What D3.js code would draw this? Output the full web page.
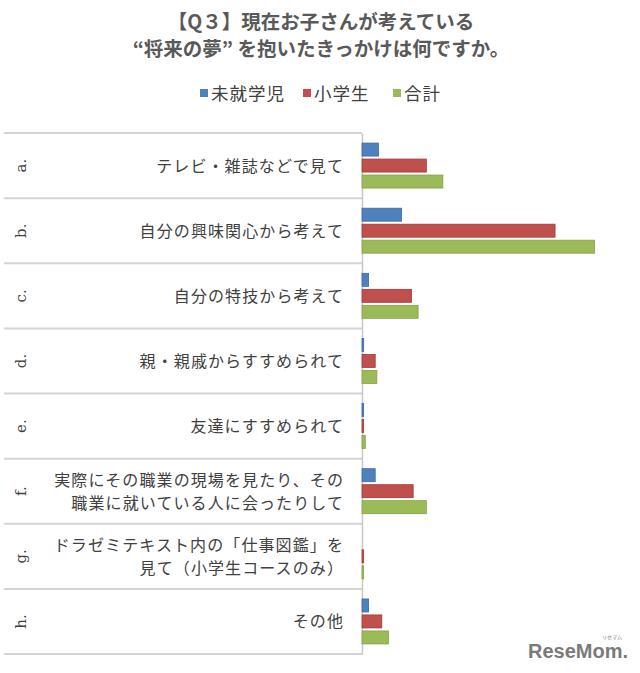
<!DOCTYPE html>
<html><head><meta charset="utf-8">
<script src="https://cdn.jsdelivr.net/npm/d3@7"></script>
<style>
html,body{margin:0;padding:0;background:#fff;}
svg{display:block;font-family:"Noto Sans CJK JP","Noto Sans",sans-serif;}
</style></head>
<body>
<svg id="c" width="640" height="673"></svg>
<script>
const titleLines = ["【Q３】現在お子さんが考えている", "“将来の夢” を抱いたきっかけは何ですか。"];
const letters = ["a.", "b.", "c.", "d.", "e.", "f.", "g.", "h."];
const labels = [
  ["テレビ・雑誌などで見て"],
  ["自分の興味関心から考えて"],
  ["自分の特技から考えて"],
  ["親・親戚からすすめられて"],
  ["友達にすすめられて"],
  ["実際にその職業の現場を見たり、その", "職業に就いている人に会ったりして"],
  ["ドラゼミテキスト内の「仕事図鑑」を", "見て（小学生コースのみ）"],
  ["その他"]
];
const seriesNames = ["未就学児", "小学生", "合計"];
const preschool  = [10, 24, 4, 1, 1, 8, 0, 4];
const elementary = [39, 117, 30, 8, 1, 31, 1, 12];
const total      = [49, 141, 34, 9, 2, 39, 1, 16];
const seriesValues = [preschool, elementary, total];
const colors = ["#4F81BD", "#C0504D", "#9BBB59"];
const strokes = ["#3a6aa3", "#9e3a37", "#84a146"];

const svg = d3.select("#c");
const x0 = 362;
const x = d3.scaleLinear().domain([0, 160]).range([x0, x0 + 264]);
const y = d3.scaleBand().domain(letters).range([133, 654]).paddingInner(0).paddingOuter(0);
const ys = d3.scaleBand().domain(seriesNames).range([0, y.bandwidth()]).paddingInner(0.1875).paddingOuter(0.63);

// title
svg.append("g").selectAll("text").data(titleLines).join("text")
  .attr("x", 321).attr("y", (d, i) => 29 + i * 27)
  .attr("text-anchor", "middle")
  .attr("font-size", 19.5).attr("font-weight", "bold")
  .attr("fill", "#595959")
  .text(d => d);

// legend
const legendX = [200, 303, 393];
const lg = svg.append("g").selectAll("g").data(seriesNames).join("g")
  .attr("transform", (d, i) => `translate(${legendX[i]},93)`);
lg.append("rect").attr("x", 0).attr("y", -4).attr("width", 8).attr("height", 8)
  .attr("fill", (d, i) => colors[i]);
lg.append("text").attr("x", 11).attr("y", 6.5)
  .attr("font-size", 17.5).attr("letter-spacing", 1).attr("fill", "#404040").text(d => d);

// separators
const bounds = letters.map(d => y(d)).concat([y.range()[1]]);
svg.append("g").selectAll("line").data(bounds).join("line")
  .attr("x1", 4).attr("x2", x0)
  .attr("y1", d => d).attr("y2", d => d)
  .attr("stroke", "#d4d4d4").attr("stroke-width", 2);

// axis line
svg.append("g").attr("transform", `translate(${x0},0)`)
  .call(d3.axisLeft(y).tickSize(0).tickFormat(""))
  .call(g => g.select(".domain").attr("stroke", "#c8c8c8").attr("stroke-width", 1.5));

// category letters (rotated)
svg.append("g").selectAll("text").data(letters).join("text")
  .attr("transform", d => `translate(26,${y(d) + y.bandwidth() / 2}) rotate(-90)`)
  .attr("text-anchor", "middle")
  .attr("font-size", 15).attr("fill", "#404040")
  .attr("font-family", "DejaVu Serif, serif")
  .text(d => d);

// category labels
const lab = svg.append("g").selectAll("text").data(labels).join("text")
  .attr("text-anchor", "end")
  .attr("font-size", 16).attr("letter-spacing", 1.1).attr("fill", "#404040");
lab.each(function (lines, i) {
  const cy = y(letters[i]) + y.bandwidth() / 2;
  const n = lines.length;
  d3.select(this).selectAll("tspan").data(lines).join("tspan")
    .attr("x", 344)
    .attr("y", (d, j) => cy + 6 + (j - (n - 1) / 2) * 23)
    .text(d => d);
});

// bars
seriesNames.forEach((s, si) => {
  svg.append("g").selectAll("rect").data(seriesValues[si]).join("rect")
    .attr("x", x(0))
    .attr("y", (d, i) => y(letters[i]) + ys(s))
    .attr("width", d => x(d) - x(0))
    .attr("height", ys.bandwidth())
    .attr("fill", colors[si])
    .attr("stroke", d => d > 0 ? strokes[si] : "none")
    .attr("stroke-width", 0.8);
});

// watermark
svg.append("text").attr("x", 628).attr("y", 658)
  .attr("text-anchor", "end")
  .attr("font-family", "Liberation Sans, Arial, sans-serif")
  .attr("font-weight", "bold").attr("font-size", 20)
  .attr("fill", "#7a7a7a").text("ReseMom.");
svg.append("text").attr("x", 612).attr("y", 639)
  .attr("text-anchor", "middle")
  .attr("font-size", 5).attr("fill", "#7a7a7a").text("リセマム");
</script>
</body></html>
